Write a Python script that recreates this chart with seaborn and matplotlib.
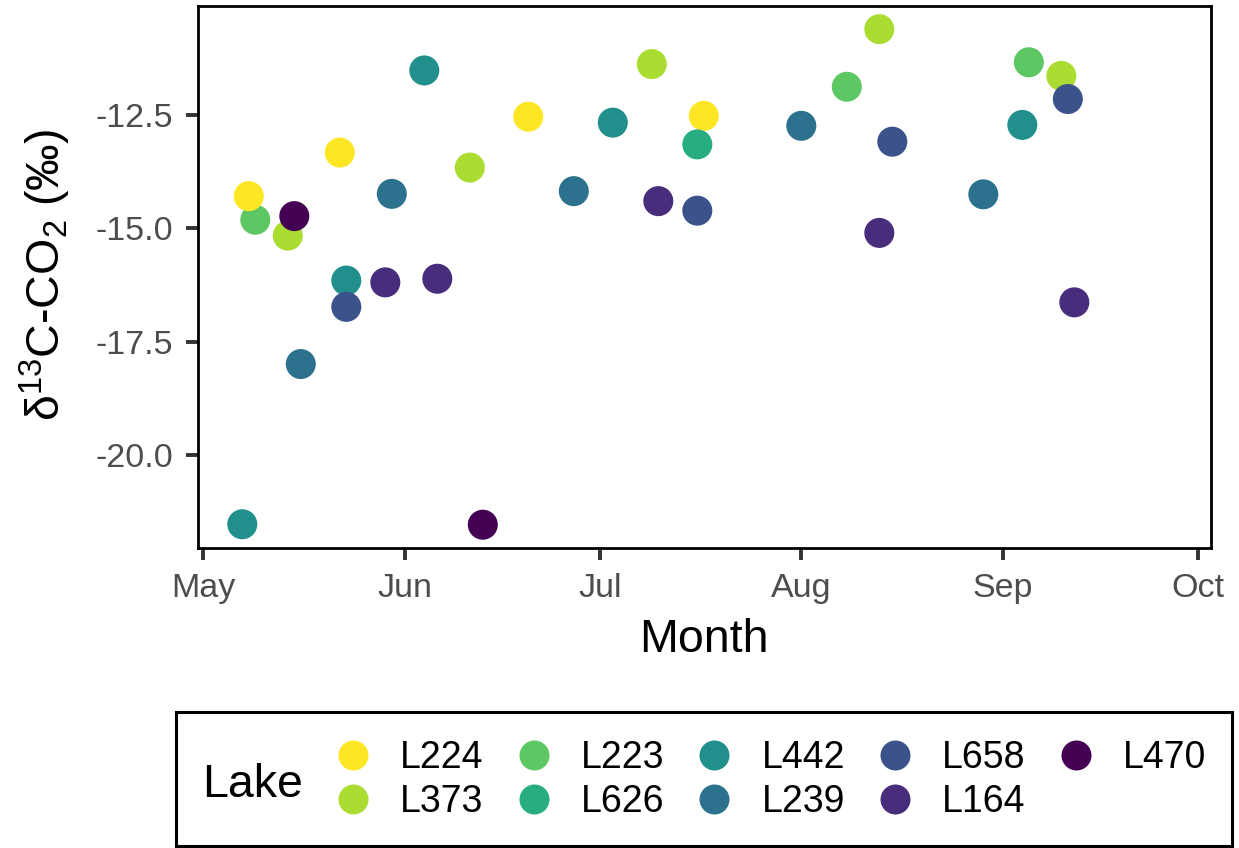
import matplotlib
matplotlib.use("Agg")
import matplotlib.pyplot as plt
import matplotlib.dates as mdates
from matplotlib.patches import Rectangle
import pandas as pd
import seaborn as sns

# ---- data: sampling date and d13C of dissolved CO2 per lake ----
lake = (["L164"] * 5 + ["L223"] * 3 + ["L224"] * 4 + ["L239"] * 5 + ["L373"] * 5
        + ["L442"] * 5 + ["L470"] * 2 + ["L626"] * 1 + ["L658"] * 4)
sample_date = [
    "2018-05-29", "2018-06-06", "2018-07-10", "2018-08-13", "2018-09-12",   # L164
    "2018-05-09", "2018-08-08", "2018-09-05",                               # L223
    "2018-05-08", "2018-05-22", "2018-06-20", "2018-07-17",                 # L224
    "2018-05-16", "2018-05-30", "2018-06-27", "2018-08-01", "2018-08-29",   # L239
    "2018-05-14", "2018-06-11", "2018-07-09", "2018-08-13", "2018-09-10",   # L373
    "2018-05-07", "2018-05-23", "2018-06-04", "2018-07-03", "2018-09-04",   # L442
    "2018-05-15", "2018-06-13",                                             # L470
    "2018-07-16",                                                           # L626
    "2018-05-23", "2018-07-16", "2018-08-15", "2018-09-11",                 # L658
]
d13c_co2 = [
    -16.19, -16.11, -14.40, -15.10, -16.63,
    -14.81, -11.88, -11.34,
    -14.29, -13.33, -12.54, -12.52,
    -17.99, -14.24, -14.18, -12.74, -14.25,
    -15.16, -13.66, -11.38, -10.61, -11.64,
    -21.52, -16.15, -11.52, -12.67, -12.72,
    -14.73, -21.53,
    -13.15,
    -16.73, -14.61, -13.09, -12.15,
]

lake_order = ["L224", "L373", "L223", "L626", "L442", "L239", "L658", "L164", "L470"]
lake_colors = ["#FDE725", "#AADC32", "#5DC863", "#27AD81", "#21908C",
               "#2C728E", "#3B528B", "#472D7B", "#440154"]

y_ticks = [-20.0, -17.5, -15.0, -12.5]
y_tick_labels = ["-20.0", "-17.5", "-15.0", "-12.5"]

df = pd.DataFrame({"Lake": lake, "date": pd.to_datetime(sample_date), "d13C": d13c_co2})

# ---- style ----
sns.set_theme(style="white")
plt.rcParams["font.family"] = ["Liberation Sans", "DejaVu Sans"]
plt.rcParams["mathtext.default"] = "regular"
plt.rcParams["text.color"] = "black"
plt.rcParams["axes.labelcolor"] = "black"

W, H = 1239, 848
fig = plt.figure(figsize=(W / 100, H / 100), dpi=100)
left, right, top, bottom = 197.7, 1210.7, 6.0, 548.3
ax = fig.add_axes([left / W, 1 - bottom / H, (right - left) / W, (bottom - top) / H])

sns.scatterplot(data=df, x="date", y="d13C", hue="Lake", hue_order=lake_order,
                palette=lake_colors, s=467, linewidth=0, alpha=1, ax=ax)

handles, labels = ax.get_legend_handles_labels()
ax.get_legend().remove()

# ---- axes ----
start = pd.Timestamp("2018-05-01")
ax.set_xlim(start + pd.Timedelta(days=-0.86), start + pd.Timedelta(days=154.98))
ax.set_ylim(-22.05, -10.10)
ax.xaxis.set_major_locator(mdates.MonthLocator())
ax.xaxis.set_major_formatter(mdates.DateFormatter("%b"))
ax.set_yticks(y_ticks)
ax.set_yticklabels(y_tick_labels)

for sp in ax.spines.values():
    sp.set_visible(True)
    sp.set_color("black")
    sp.set_linewidth(2.0)

ax.tick_params(axis="both", which="major", direction="out", length=8.6, width=2.8,
               color="#333333", labelcolor="#4D4D4D", labelsize=24.5,
               bottom=True, left=True, top=False, right=False)
ax.tick_params(axis="x", pad=9.5)
ax.tick_params(axis="y", pad=8.9)

ax.set_xlabel("Month", fontsize=33.5, color="black", va="baseline")
ax.xaxis.set_label_coords(0.5, (bottom - 651.7) / (bottom - top))
ax.set_ylabel("δ$^{13}$C-CO$_{2}$ (‰)", fontsize=33.5, color="black")
ax.yaxis.set_label_coords((73 - left) / (right - left), (bottom - 274.7) / (bottom - top))

# ---- legend ----
for h in handles:
    h.set_markersize(21.6)
    h.set_markeredgewidth(0)
leg_fs = 27
fs_px = leg_fs * 100 / 72
leg = fig.legend(handles, labels, ncol=5, loc="center left",
                 bbox_to_anchor=(338 / W, 1 - 780 / H), frameon=False,
                 fontsize=leg_fs, handlelength=30 / fs_px, handletextpad=32 / fs_px,
                 columnspacing=(180.6 - 30 - 32 - 2.224 * fs_px) / fs_px,
                 labelspacing=0.2, borderpad=0, borderaxespad=0)
for t in leg.get_texts():
    t.set_color("black")
fig.text(201.7 / W, 1 - 796.7 / H, "Lake", fontsize=33.5, ha="left", va="baseline",
         color="black")
fig.add_artist(Rectangle((175.5 / W, 1 - 846 / H), (1231.7 - 175.5) / W, (846 - 711.7) / H,
                         transform=fig.transFigure, fill=False, edgecolor="black",
                         linewidth=2.2))

fig.savefig("out.png", dpi=100, facecolor="white")
